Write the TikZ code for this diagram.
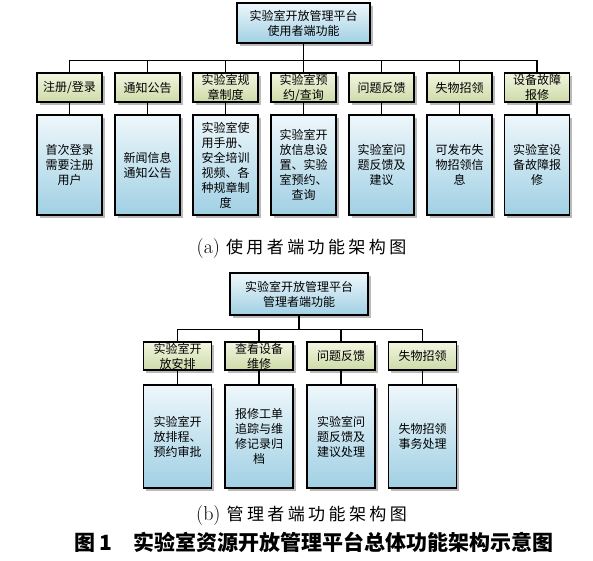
\documentclass[tikz,border=0pt]{standalone}
\usepackage{fontspec}
\usepackage{tikz}
\usetikzlibrary{shadows}
\newfontfamily\cjk{Noto Sans CJK SC}
\newfontfamily\cjkcap{Noto Sans CJK SC}[LetterSpace=20]
\definecolor{boxblue}{RGB}{160,208,228}
\definecolor{boxbluetop}{RGB}{238,247,251}
\definecolor{boxgreen}{RGB}{205,218,168}
\definecolor{boxgreentop}{RGB}{242,246,224}

\tikzset{
  box/.style={draw, line width=1.4pt, align=center, inner sep=1pt,
    font=\cjk\fontsize{12}{15}\selectfont,
    drop shadow={shadow xshift=2.5pt, shadow yshift=-3pt, opacity=0.45, fill=black!60}},
  bluebox/.style={box, top color=boxbluetop, bottom color=boxblue},
  greenbox/.style={box, top color=boxgreentop, bottom color=boxgreen},
  link/.style={line width=1.4pt}
}

\begin{document}
\begin{tikzpicture}[x=1pt,y=-1pt]
\useasboundingbox (0,0) rectangle (593,560);

% (a) 使用者端
\node[bluebox, minimum width=133pt, minimum height=40pt] (ua) at (303.5,23) {实验室开放管理平台\\使用者端功能};

\node[greenbox, minimum width=65pt, minimum height=29pt] (ua1) at (69.5,87.5) {注册/登录};
\node[greenbox, minimum width=65pt, minimum height=29pt] (ua2) at (147.5,87.5) {通知公告};
\node[greenbox, minimum width=65pt, minimum height=29pt] (ua3) at (225.5,87.5) {实验室规\\章制度};
\node[greenbox, minimum width=65pt, minimum height=29pt] (ua4) at (303.5,87.5) {实验室预\\约/查询};
\node[greenbox, minimum width=65pt, minimum height=29pt] (ua5) at (381.5,87.5) {问题反馈};
\node[greenbox, minimum width=65pt, minimum height=29pt] (ua6) at (459.5,87.5) {失物招领};
\node[greenbox, minimum width=65pt, minimum height=29pt] (ua7) at (537,87.5) {设备故障\\报修};

\node[bluebox, minimum width=65pt, minimum height=100pt] (ub1) at (69.5,165) {首次登录\\需要注册\\用户};
\node[bluebox, minimum width=65pt, minimum height=100pt] (ub2) at (147.5,165) {新闻信息\\通知公告};
\node[bluebox, minimum width=65pt, minimum height=100pt] (ub3) at (225.5,165) {实验室使\\用手册、\\安全培训\\视频、各\\种规章制\\度};
\node[bluebox, minimum width=65pt, minimum height=100pt] (ub4) at (303.5,165) {实验室开\\放信息设\\置、实验\\室预约、\\查询};
\node[bluebox, minimum width=65pt, minimum height=100pt] (ub5) at (381.5,165) {实验室问\\题反馈及\\建议};
\node[bluebox, minimum width=65pt, minimum height=100pt] (ub6) at (459.5,165) {可发布失\\物招领信\\息};
\node[bluebox, minimum width=65pt, minimum height=100pt] (ub7) at (537,165) {实验室设\\备故障报\\修};

\foreach \i in {1,...,7} {
    \draw[link] (ua.south) -- ++(0,17) -| (ua\i.north);
    \draw[link] (ua\i.south) -- (ub\i.north);
}

\node[font=\fontsize{20}{22}\selectfont] (capa) at (301.5,249) {(a)\ \cjkcap\fontsize{17}{20}\selectfont 使用者端功能架构图};

% (b) 管理者端
\node[bluebox, minimum width=138pt, minimum height=42pt] (ma) at (299,294) {实验室开放管理平台\\管理者端功能};

\node[greenbox, minimum width=68pt, minimum height=28pt] (ma1) at (177.5,356) {实验室开\\放安排};
\node[greenbox, minimum width=68pt, minimum height=28pt] (ma2) at (259,356) {查看设备\\维修};
\node[greenbox, minimum width=68pt, minimum height=28pt] (ma3) at (341,356) {问题反馈};
\node[greenbox, minimum width=68pt, minimum height=28pt] (ma4) at (422.5,356) {失物招领};

\node[bluebox, minimum width=68pt, minimum height=103pt] (mb1) at (177.5,436.5) {实验室开\\放排程、\\预约审批};
\node[bluebox, minimum width=68pt, minimum height=103pt] (mb2) at (259,436.5) {报修工单\\追踪与维\\修记录归\\档};
\node[bluebox, minimum width=68pt, minimum height=103pt] (mb3) at (341,436.5) {实验室问\\题反馈及\\建议处理};
\node[bluebox, minimum width=68pt, minimum height=103pt] (mb4) at (422.5,436.5) {失物招领\\事务处理};

\foreach \i in {1,...,4} {
    \draw[link] (ma.south) -- ++(0,14) -| (ma\i.north);
    \draw[link] (ma\i.south) -- (mb\i.north);
}

\node[font=\fontsize{20}{22}\selectfont] (capb) at (301.5,515) {(b)\ \cjkcap\fontsize{17}{20}\selectfont 管理者端功能架构图};

\node (title) at (314,542) {\cjk\bfseries\fontsize{21}{24}\selectfont 图\,1\quad 实验室资源开放管理平台总体功能架构示意图};
\end{tikzpicture}
\end{document}
